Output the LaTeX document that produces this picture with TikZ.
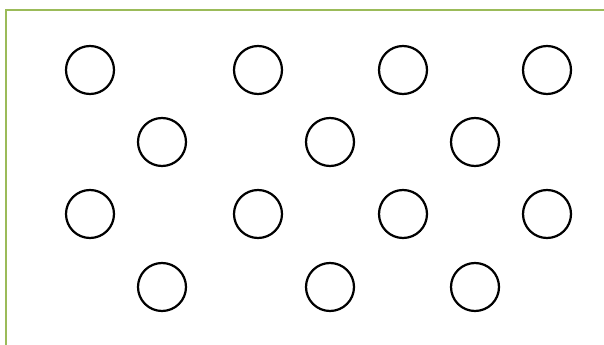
\documentclass[tikz,border=0pt]{standalone}
\usepackage{tikz}
\definecolor{framegreen}{HTML}{9BBB59}
\tikzset{
  ring/.style={
    circle, draw=black, line width=1.9pt,
    minimum size=14.4mm, inner sep=0pt
  },
  frameline/.style={draw=framegreen, line width=2pt}
}

\begin{document}
\begin{tikzpicture}[x=0.3mm, y=-0.3mm]
  \useasboundingbox (0,0) rectangle (604,345);

  % ==== FRAME (top and left edges) ====
  \draw[frameline] (6,345) -- (6,10) -- (604,10);

  % ==== ROW 1 ====
  \node[ring] (r1a) at (90,70)  {};
  \node[ring] (r1b) at (258,70) {};
  \node[ring] (r1c) at (403,70) {};
  \node[ring] (r1d) at (547,70) {};

  % ==== ROW 2 ====
  \node[ring] (r2a) at (162,142) {};
  \node[ring] (r2b) at (330,142) {};
  \node[ring] (r2c) at (475,142) {};

  % ==== ROW 3 ====
  \node[ring] (r3a) at (90,214)  {};
  \node[ring] (r3b) at (258,214) {};
  \node[ring] (r3c) at (403,214) {};
  \node[ring] (r3d) at (547,214) {};

  % ==== ROW 4 ====
  \node[ring] (r4a) at (162,287) {};
  \node[ring] (r4b) at (330,287) {};
  \node[ring] (r4c) at (475,287) {};
\end{tikzpicture}
\end{document}
